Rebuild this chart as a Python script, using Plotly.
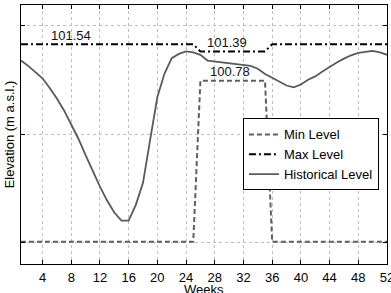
import plotly.graph_objects as go

weeks = list(range(1, 53))
historical = [101.20, 101.09, 100.96, 100.83, 100.63, 100.41, 100.16, 99.88, 99.57, 99.23,
              98.90, 98.57, 98.28, 98.03, 97.86, 97.86, 98.19, 98.65, 99.55, 100.44,
              100.93, 101.25, 101.34, 101.39, 101.37, 101.32, 101.20, 101.18, 101.16, 101.14,
              101.12, 101.11, 101.09, 101.03, 100.92, 100.84, 100.76, 100.68, 100.64, 100.70,
              100.80, 100.87, 100.97, 101.07, 101.16, 101.24, 101.31, 101.36, 101.38, 101.40,
              101.37, 101.32]
max_level = [101.54] * 25 + [101.39] * 10 + [101.54] * 17
min_level = [97.42] * 25 + [100.78] * 10 + [97.42] * 17

x_ticks = list(range(4, 53, 4))
y_grid = [97.415, 99.665, 101.93]
y_range = [96.957, 102.359]
x_range = [1, 52]

# annotation anchors (week, value)
labels = [(8, 101.54), (29.7, 101.39), (30.1, 100.78)]

font = "Liberation Sans, Arial, Helvetica, sans-serif"

fig = go.Figure()
fig.add_trace(go.Scatter(x=weeks, y=min_level, mode="lines", name="Min Level",
                         line=dict(color="#5f5f5f", width=2, dash="5px,3px")))
fig.add_trace(go.Scatter(x=weeks, y=max_level, mode="lines", name="Max Level",
                         line=dict(color="#000000", width=2, dash="7px,3px,2px,3px")))
fig.add_trace(go.Scatter(x=weeks, y=historical, mode="lines", name="Historical Level",
                         line=dict(color="#5a5a5a", width=1.8)))

for (wx, v) in labels:
    fig.add_annotation(x=wx, y=v, text=f"{v:.2f}", showarrow=False, yshift=9,
                       font=dict(size=13, color="#111111", family=font))

# x-axis title as a paper annotation just below the tick labels (cut by the edge, as in the reference)
fig.add_annotation(x=0.5, y=0, xref="paper", yref="paper", text="Weeks", showarrow=False,
                   xanchor="center", yanchor="top", yshift=-16,
                   font=dict(size=13, color="black", family=font))

axis_common = dict(showline=True, linecolor="black", linewidth=1, mirror="ticks",
                   ticks="inside", ticklen=4, tickcolor="black",
                   showgrid=True, gridcolor="#bdbdbd", griddash="dot", gridwidth=1,
                   zeroline=False, automargin=False)

fig.update_xaxes(range=x_range, tickvals=x_ticks, ticktext=[str(t) for t in x_ticks],
                 tickfont=dict(size=13, color="black", family=font),
                 ticklabeloverflow="allow", ticklabelstandoff=1,
                 **axis_common)
fig.update_yaxes(range=y_range, tickvals=y_grid, showticklabels=False,
                 title=dict(text="Elevation (m a.s.l.)", font=dict(size=13, color="black", family=font), standoff=2),
                 **axis_common)

fig.update_layout(width=391, height=293, margin=dict(l=21, r=4, t=5, b=29),
                  plot_bgcolor="white", paper_bgcolor="white",
                  font=dict(family=font, size=13, color="black"),
                  legend=dict(x=0.978, y=0.562, xanchor="right", yanchor="top",
                              bgcolor="white", bordercolor="black", borderwidth=1,
                              font=dict(size=13, color="black", family=font),
                              tracegroupgap=0, itemwidth=30))

fig.write_html("out.html")
